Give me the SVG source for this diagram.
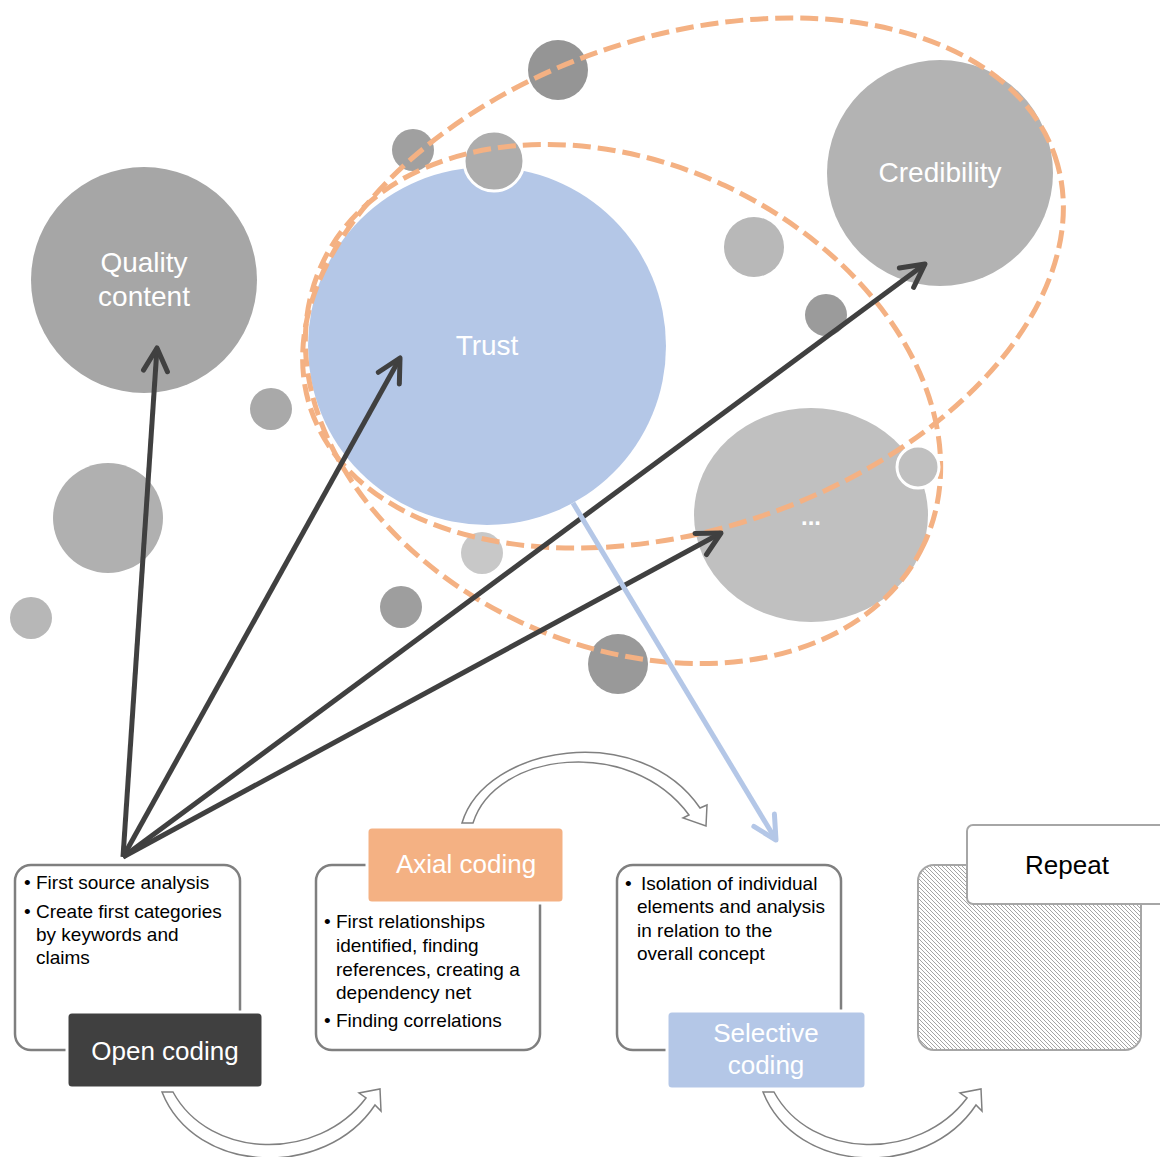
<svg xmlns="http://www.w3.org/2000/svg" width="1160" height="1157" viewBox="0 0 1160 1157">
<style>
  .lbl { font-family: "Liberation Sans", Arial, sans-serif; fill: #ffffff; text-anchor: middle; }
  .big { font-size: 28px; }
  .tag { font-size: 26px; }
  .bul { font-family: "Liberation Sans", Arial, sans-serif; font-size: 19px; fill: #000000; }
  .box { fill: #ffffff; stroke: #7f7f7f; stroke-width: 2.5; }
  .ell { fill: none; stroke: #f4b183; stroke-width: 5; stroke-dasharray: 18 7; }
  .arr { stroke: #404040; stroke-width: 5; fill: none; marker-end: url(#hd); }
  .curv { fill: #ffffff; stroke: #808080; stroke-width: 1.5; stroke-linejoin: miter; }
</style>
<defs>
  <marker id="hd" viewBox="-26 -15 30 30" refX="0" refY="0" markerWidth="30" markerHeight="30" markerUnits="userSpaceOnUse" orient="auto">
    <path d="M-23,-12 L0,0 L-23,12" fill="none" stroke="#404040" stroke-width="5" stroke-linecap="round" stroke-linejoin="round"/>
  </marker>
  <marker id="hdb" viewBox="-26 -15 30 30" refX="0" refY="0" markerWidth="30" markerHeight="30" markerUnits="userSpaceOnUse" orient="auto">
    <path d="M-23,-12 L0,0 L-23,12" fill="none" stroke="#b4c7e7" stroke-width="5" stroke-linecap="round" stroke-linejoin="round"/>
  </marker>
  <pattern id="hatch" width="4" height="4" patternUnits="userSpaceOnUse">
    <rect width="4" height="4" fill="#ffffff"/>
    <path d="M0,0 L4,4 M-1,3 L1,5 M3,-1 L5,1" stroke="#9a9a9a" stroke-width="0.9"/>
  </pattern>
</defs>

<g id="circles-minor">
  <circle cx="271" cy="409" r="21" fill="#a9a9a9"/>
  <circle cx="108" cy="518" r="55" fill="#b0b0b0"/>
  <circle cx="31" cy="618" r="21" fill="#b7b7b7"/>
  <circle cx="413" cy="150" r="21" fill="#a0a0a0"/>
  <circle cx="558" cy="70" r="30" fill="#959595"/>
  <circle cx="754" cy="247" r="30" fill="#b8b8b8"/>
  <circle cx="826" cy="315" r="21" fill="#9b9b9b"/>
  <circle cx="482" cy="553" r="21" fill="#c8c8c8"/>
  <circle cx="401" cy="607" r="21" fill="#9e9e9e"/>
  <circle cx="618" cy="664" r="30" fill="#999999"/>
</g>

<g id="quality-content">
  <circle cx="144" cy="280" r="113" fill="#a6a6a6"/>
  <text class="lbl big" x="144" y="272">Quality</text>
  <text class="lbl big" x="144" y="306">content</text>
</g>

<g id="trust">
  <circle cx="487" cy="346" r="179" fill="#b4c7e7"/>
  <text class="lbl big" x="487" y="355">Trust</text>
</g>
<g id="trust-satellite">
  <circle cx="494" cy="161" r="30" fill="#adadad" stroke="#ffffff" stroke-width="3"/>
</g>

<g id="credibility">
  <circle cx="940" cy="173" r="113" fill="#b3b3b3"/>
  <text class="lbl big" x="940" y="182">Credibility</text>
</g>

<g id="more">
  <ellipse cx="811" cy="515" rx="117" ry="107" fill="#c0c0c0"/>
  <text class="lbl" x="811" y="525" font-size="24" font-weight="bold">...</text>
</g>

<g id="clusters">
  <ellipse class="ell" cx="683" cy="283" rx="393" ry="246" transform="rotate(-18.8 683 283)"/>
  <ellipse class="ell" cx="623" cy="404" rx="332" ry="241" transform="rotate(25 623 404)"/>
</g>

<g id="more-satellite">
  <circle cx="918" cy="467" r="21" fill="#c0c0c0" stroke="#ffffff" stroke-width="3"/>
</g>

<g id="connectors">
  <line class="arr" x1="123" y1="857" x2="157" y2="348"/>
  <line class="arr" x1="123" y1="857" x2="400" y2="358"/>
  <line class="arr" x1="123" y1="857" x2="925" y2="264"/>
  <line class="arr" x1="123" y1="857" x2="721" y2="533"/>
  <line x1="573" y1="503" x2="776" y2="840" stroke="#b4c7e7" stroke-width="5" marker-end="url(#hdb)"/>
  <path class="curv" d="M462,823 C485,745 640,720 700,808 L707,805 L706,826 L683,818 L689,815 C630,735 495,752 473,823 Z"/>
  <path class="curv" d="M162,1092 C195,1175 325,1180 375,1105 L381,1111 L380,1089 L359,1093 L366,1098 C318,1162 210,1160 173,1092 Z"/>
  <path class="curv" transform="translate(601 0)" d="M162,1092 C195,1175 325,1180 375,1105 L381,1111 L380,1089 L359,1093 L366,1098 C318,1162 210,1160 173,1092 Z"/>
</g>

<g id="open-coding">
  <rect class="box" x="15" y="865" width="225" height="185" rx="16"/>
  <text class="bul" x="24" y="889">•</text>
  <text class="bul" x="36" y="889">First source analysis</text>
  <text class="bul" x="24" y="918">•</text>
  <text class="bul" x="36" y="918">Create first categories</text>
  <text class="bul" x="36" y="941">by keywords and</text>
  <text class="bul" x="36" y="964">claims</text>
  <rect x="67" y="1012" width="196" height="76" rx="5" fill="#404040" stroke="#ffffff" stroke-width="3"/>
  <text class="lbl tag" x="165" y="1060">Open coding</text>
</g>

<g id="axial-coding">
  <rect class="box" x="316" y="865" width="224" height="185" rx="16"/>
  <rect x="367" y="827" width="197" height="76" rx="5" fill="#f4b183" stroke="#ffffff" stroke-width="3"/>
  <text class="lbl tag" x="466" y="873">Axial coding</text>
  <text class="bul" x="324" y="928">•</text>
  <text class="bul" x="336" y="928">First relationships</text>
  <text class="bul" x="336" y="952">identified, finding</text>
  <text class="bul" x="336" y="976">references, creating a</text>
  <text class="bul" x="336" y="999">dependency net</text>
  <text class="bul" x="324" y="1027">•</text>
  <text class="bul" x="336" y="1027">Finding correlations</text>
</g>

<g id="selective-coding">
  <rect class="box" x="617" y="865" width="224" height="185" rx="16"/>
  <text class="bul" x="625" y="890">•</text>
  <text class="bul" x="641" y="890">Isolation of individual</text>
  <text class="bul" x="637" y="913">elements and analysis</text>
  <text class="bul" x="637" y="937">in relation to the</text>
  <text class="bul" x="637" y="960">overall concept</text>
  <rect x="667" y="1011" width="199" height="78" rx="5" fill="#b4c7e7" stroke="#ffffff" stroke-width="3"/>
  <text class="lbl tag" x="766" y="1042">Selective</text>
  <text class="lbl tag" x="766" y="1074">coding</text>
</g>

<g id="repeat">
  <rect x="918" y="865" width="223" height="185" rx="16" fill="url(#hatch)" stroke="#a6a6a6" stroke-width="2"/>
  <rect x="967" y="825" width="215" height="79" rx="6" fill="#ffffff" stroke="#a6a6a6" stroke-width="2"/>
  <text x="1067" y="874" font-family="Liberation Sans, Arial, sans-serif" font-size="26" fill="#000000" text-anchor="middle">Repeat</text>
</g>
</svg>
